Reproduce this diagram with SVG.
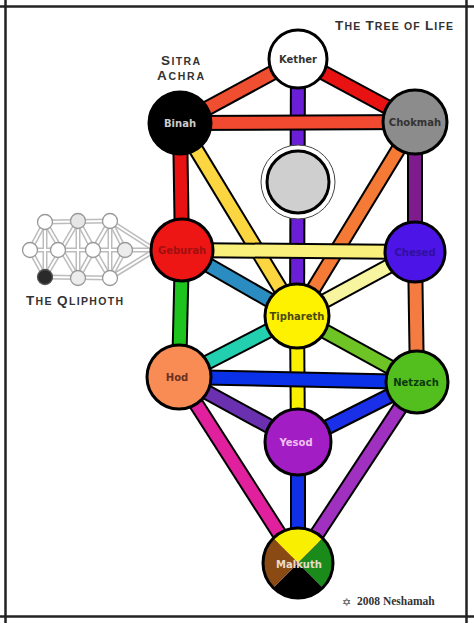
<svg xmlns="http://www.w3.org/2000/svg" width="474" height="623" viewBox="0 0 474 623">
<style>
.frame{stroke:#222;stroke-width:2.5}
.o{stroke:#000;stroke-width:16;stroke-linecap:butt}
.f{stroke-width:12;stroke-linecap:butt}
.node{stroke:#000;stroke-width:3}
.lbl{font-family:"DejaVu Sans",sans-serif;font-weight:bold;font-size:10px;text-anchor:middle}
.cap{font-family:"Liberation Sans",sans-serif;font-weight:bold;font-size:10.5px;fill:#333}
.big{font-size:13.5px}
.qg{stroke:#bcbcbc;stroke-width:5}
.qw{stroke:#fff;stroke-width:2}
.qn{stroke:#999;stroke-width:1.3;fill:#fff}
</style>
<rect width="474" height="623" fill="#fff"/>
<g id="frame">
<line class="frame" x1="0" y1="6.5" x2="474" y2="6.5"/>
<line class="frame" x1="0" y1="616.5" x2="474" y2="616.5"/>
<line class="frame" x1="5.5" y1="0" x2="5.5" y2="623"/>
<line class="frame" x1="466.5" y1="0" x2="466.5" y2="623"/>
</g>
<g id="qliphoth">
<g class="qg">
<line x1="45" y1="222" x2="110" y2="221"/><line x1="45" y1="277" x2="110" y2="278"/>
<line x1="30" y1="250" x2="182" y2="250"/>
<line x1="45" y1="222" x2="45" y2="277"/><line x1="78" y1="221" x2="78" y2="278"/><line x1="110" y1="221" x2="110" y2="278"/>
<line x1="30" y1="250" x2="45" y2="222"/><line x1="30" y1="250" x2="45" y2="277"/>
<line x1="45" y1="222" x2="78" y2="278"/><line x1="45" y1="277" x2="78" y2="221"/>
<line x1="78" y1="221" x2="93" y2="250"/><line x1="78" y1="278" x2="93" y2="250"/>
<line x1="78" y1="221" x2="110" y2="278"/><line x1="78" y1="278" x2="110" y2="221"/>
<line x1="93" y1="250" x2="110" y2="221"/><line x1="93" y1="250" x2="110" y2="278"/>
<line x1="110" y1="221" x2="125" y2="250"/><line x1="110" y1="278" x2="125" y2="250"/>
<line x1="110" y1="221" x2="152" y2="248"/><line x1="110" y1="278" x2="152" y2="252"/>
</g>
<g class="qw">
<line x1="45" y1="222" x2="110" y2="221"/><line x1="45" y1="277" x2="110" y2="278"/>
<line x1="30" y1="250" x2="152" y2="250"/>
<line x1="45" y1="222" x2="45" y2="277"/><line x1="78" y1="221" x2="78" y2="278"/><line x1="110" y1="221" x2="110" y2="278"/>
<line x1="30" y1="250" x2="45" y2="222"/><line x1="30" y1="250" x2="45" y2="277"/>
<line x1="45" y1="222" x2="78" y2="278"/><line x1="45" y1="277" x2="78" y2="221"/>
<line x1="78" y1="221" x2="93" y2="250"/><line x1="78" y1="278" x2="93" y2="250"/>
<line x1="78" y1="221" x2="110" y2="278"/><line x1="78" y1="278" x2="110" y2="221"/>
<line x1="93" y1="250" x2="110" y2="221"/><line x1="93" y1="250" x2="110" y2="278"/>
<line x1="110" y1="221" x2="125" y2="250"/><line x1="110" y1="278" x2="125" y2="250"/>
<line x1="110" y1="221" x2="152" y2="248"/><line x1="110" y1="278" x2="152" y2="252"/>
</g>
<circle class="qn" cx="45" cy="222" r="7.5"/>
<circle class="qn" cx="78" cy="221" r="7.5" style="fill:#e6e6e6"/>
<circle class="qn" cx="110" cy="221" r="7.5"/>
<circle class="qn" cx="30" cy="250" r="7.5"/>
<circle class="qn" cx="58" cy="250" r="7.5"/>
<circle class="qn" cx="93" cy="250" r="7.5"/>
<circle class="qn" cx="125" cy="250" r="7.5" style="fill:#ececec"/>
<circle class="qn" cx="45" cy="277" r="7.5" style="fill:#2a2a2a;stroke:#555"/>
<circle class="qn" cx="78" cy="278" r="7.5" style="fill:#ececec"/>
<circle class="qn" cx="110" cy="278" r="7.5"/>
</g>
<g id="connectors">
<g><line class="o" x1="298" y1="59" x2="297" y2="316"/><line class="f" stroke="#6a1ed6" x1="298" y1="59" x2="297" y2="316"/></g>
<g><line class="o" x1="297" y1="316" x2="298" y2="442"/><line class="f" stroke="#f8f000" x1="297" y1="316" x2="298" y2="442"/></g>
<g><line class="o" x1="298" y1="442" x2="298" y2="563"/><line class="f" stroke="#1030e8" x1="298" y1="442" x2="298" y2="563"/></g>
<g><line class="o" x1="298" y1="59" x2="180" y2="123"/><line class="f" stroke="#f04e30" x1="298" y1="59" x2="180" y2="123"/></g>
<g><line class="o" x1="298" y1="59" x2="415" y2="122"/><line class="f" stroke="#e81212" x1="298" y1="59" x2="415" y2="122"/></g>
<g><line class="o" x1="180" y1="123" x2="182" y2="250"/><line class="f" stroke="#e81212" x1="180" y1="123" x2="182" y2="250"/></g>
<g><line class="o" x1="182" y1="250" x2="179" y2="377"/><line class="f" stroke="#1ec41e" x1="182" y1="250" x2="179" y2="377"/></g>
<g><line class="o" x1="415" y1="122" x2="415" y2="252"/><line class="f" stroke="#7e1c8e" x1="415" y1="122" x2="415" y2="252"/></g>
<g><line class="o" x1="415" y1="252" x2="417" y2="382"/><line class="f" stroke="#f47c40" x1="415" y1="252" x2="417" y2="382"/></g>
<g><line class="o" x1="180" y1="123" x2="297" y2="316"/><line class="f" stroke="#fbd640" x1="180" y1="123" x2="297" y2="316"/></g>
<g><line class="o" x1="415" y1="122" x2="297" y2="316"/><line class="f" stroke="#f57a35" x1="415" y1="122" x2="297" y2="316"/></g>
<g><line class="o" x1="182" y1="250" x2="297" y2="316"/><line class="f" stroke="#2a8cc0" x1="182" y1="250" x2="297" y2="316"/></g>
<g><line class="o" x1="415" y1="252" x2="297" y2="316"/><line class="f" stroke="#f7f5a0" x1="415" y1="252" x2="297" y2="316"/></g>
<g><line class="o" x1="179" y1="377" x2="297" y2="316"/><line class="f" stroke="#22d0b0" x1="179" y1="377" x2="297" y2="316"/></g>
<g><line class="o" x1="417" y1="382" x2="297" y2="316"/><line class="f" stroke="#6ec424" x1="417" y1="382" x2="297" y2="316"/></g>
<g><line class="o" x1="179" y1="377" x2="298" y2="442"/><line class="f" stroke="#6a30b0" x1="179" y1="377" x2="298" y2="442"/></g>
<g><line class="o" x1="417" y1="382" x2="298" y2="442"/><line class="f" stroke="#1a30e8" x1="417" y1="382" x2="298" y2="442"/></g>
<g><line class="o" x1="179" y1="377" x2="298" y2="563"/><line class="f" stroke="#e0209c" x1="179" y1="377" x2="298" y2="563"/></g>
<g><line class="o" x1="417" y1="382" x2="298" y2="563"/><line class="f" stroke="#a030c0" x1="417" y1="382" x2="298" y2="563"/></g>
<g><line class="o" x1="180" y1="123" x2="415" y2="122"/><line class="f" stroke="#f24a30" x1="180" y1="123" x2="415" y2="122"/></g>
<g><line class="o" x1="182" y1="250" x2="415" y2="252"/><line class="f" stroke="#f8f07a" x1="182" y1="250" x2="415" y2="252"/></g>
<g><line class="o" x1="179" y1="377" x2="417" y2="382"/><line class="f" stroke="#0a30e8" x1="179" y1="377" x2="417" y2="382"/></g>
</g>
<g id="kether"><circle class="node" cx="298" cy="59" r="29" fill="#fff"/><text class="lbl" x="298" y="63" fill="#333">Kether</text></g>
<g id="binah"><circle class="node" cx="180" cy="123" r="31" fill="#000"/><text class="lbl" x="180" y="127" fill="#ccc">Binah</text></g>
<g id="chokmah"><circle class="node" cx="415" cy="122" r="32" fill="#8c8c8c"/><text class="lbl" x="415" y="126" fill="#333">Chokmah</text></g>
<g id="daath"><circle cx="298" cy="182" r="37" fill="#fff" stroke="#444" stroke-width="1"/><circle class="node" cx="298" cy="182" r="31" fill="#cfcfcf"/></g>
<g id="geburah"><circle class="node" cx="182" cy="250" r="31" fill="#ee1515"/><text class="lbl" x="182" y="254" fill="#a01010">Geburah</text></g>
<g id="chesed"><circle class="node" cx="415" cy="252" r="30" fill="#4c14e6"/><text class="lbl" x="415" y="256" fill="#3010a0">Chesed</text></g>
<g id="tiphareth"><circle class="node" cx="297" cy="316" r="32" fill="#fff200"/><text class="lbl" x="297" y="320" fill="#4a4a10">Tiphareth</text></g>
<g id="hod"><circle class="node" cx="179" cy="377" r="32" fill="#f98c55"/><text class="lbl" x="177" y="381" fill="#6a3020">Hod</text></g>
<g id="netzach"><circle class="node" cx="417" cy="382" r="31" fill="#52bf1e"/><text class="lbl" x="416" y="386" fill="#0c3a0c">Netzach</text></g>
<g id="yesod"><circle class="node" cx="298" cy="442" r="33" fill="#a21ec4"/><text class="lbl" x="296" y="446" fill="#f0c0f0">Yesod</text></g>
<g id="malkuth">
<path d="M298,563 L273.25,538.25 A35,35 0 0 1 322.75,538.25 Z" fill="#f8f000"/>
<path d="M298,563 L322.75,538.25 A35,35 0 0 1 322.75,587.75 Z" fill="#1a8a1a"/>
<path d="M298,563 L322.75,587.75 A35,35 0 0 1 273.25,587.75 Z" fill="#000"/>
<path d="M298,563 L273.25,587.75 A35,35 0 0 1 273.25,538.25 Z" fill="#8a4a14"/>
<circle class="node" cx="298" cy="563" r="35" fill="none"/>
<text class="lbl" x="299" y="568" fill="#e8dccc">Malkuth</text>
</g>
<g id="labels">
<text class="cap" x="335" y="30" textLength="118" lengthAdjust="spacing"><tspan class="big">T</tspan>HE <tspan class="big">T</tspan>REE OF <tspan class="big">L</tspan>IFE</text>
<text class="cap" x="161" y="65" textLength="39" lengthAdjust="spacing"><tspan class="big">S</tspan>ITRA</text>
<text class="cap" x="157" y="80" textLength="47" lengthAdjust="spacing"><tspan class="big">A</tspan>CHRA</text>
<text class="cap" x="26" y="305" textLength="97" lengthAdjust="spacing"><tspan class="big">T</tspan>HE <tspan class="big">Q</tspan>LIPHOTH</text>
<text x="342" y="606" font-family="DejaVu Sans,sans-serif" font-size="11" fill="#444">✡</text>
<text x="357" y="605" font-family="Liberation Serif,serif" font-weight="bold" font-size="11.5" fill="#333">2008 Neshamah</text>
</g>
</svg>
